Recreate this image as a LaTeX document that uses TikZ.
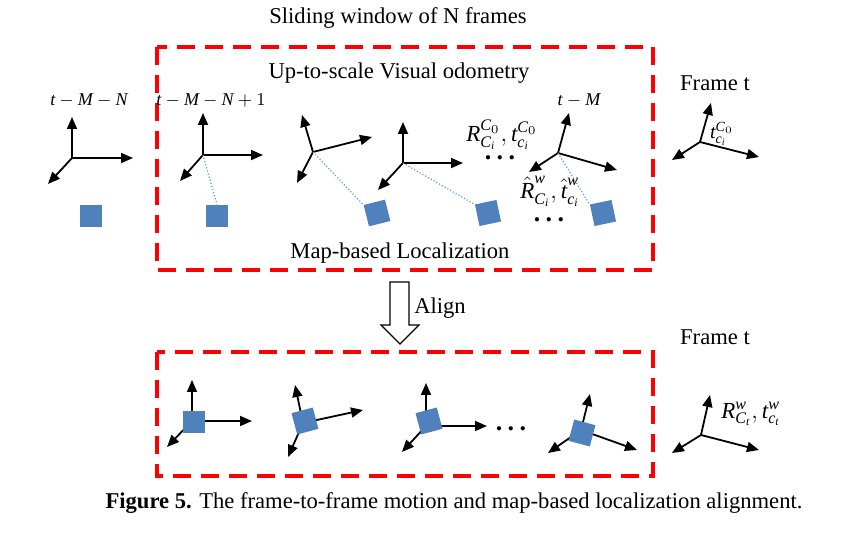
\documentclass[tikz,border=0pt]{standalone}
\usepackage{amsmath}
\usepackage{fontspec}
\setmainfont{Liberation Serif}
\usetikzlibrary{arrows.meta}
\definecolor{markblue}{RGB}{79,129,189}
\definecolor{linkblue}{RGB}{91,155,213}
\begin{document}
\begin{tikzpicture}[x=0.5pt,y=-0.5pt,
    axis/.style={line width=0.9pt,-{Triangle[length=6pt,width=5pt]}},
    mapmark/.style={fill=markblue,minimum size=11pt,inner sep=0pt},
    link/.style={linkblue,densely dotted,line width=0.6pt},
    window/.style={red,line width=1.6pt,dash pattern=on 9pt off 5pt},
    txt/.style={font=\fontsize{11.3}{13}\selectfont},
    stamp/.style={font=\fontsize{9}{11}\selectfont},
    pose/.style={font=\fontsize{11.5}{13}\selectfont},
    ellip/.style={font=\fontsize{13}{14}\selectfont\bfseries,inner sep=0pt}]
    \useasboundingbox (0,0) rectangle (843,535);
    % sliding window and aligned window
    \draw[window] (157,47) rectangle (653,270);
    \draw[window] (157,352) rectangle (653,476);
    \node[txt] (title) at (398,18) {Sliding window of N frames};
    \node[txt] (vo) at (399,73) {Up-to-scale Visual odometry};
    \node[txt] (loc) at (400,253) {Map-based Localization};
    \node[txt] (frametop) at (715,83) {Frame t};
    \node[txt] (framebot) at (715,337) {Frame t};
    % camera axes: name / origin / up / right / down-left
    \foreach \n/\ox/\oy/\ux/\uy/\rx/\ry/\dx/\dy in {
        a/72/158/72/117/133/158/48/184,
        b/203/155/203/113/263/155/180/181,
        c/313/152/302/115/372/137/297/183,
        d/403/163/403/122/463/163/378/190,
        e/558/153/569/113/617/170/529/172,
        f/700/142/711/103/759/157/672/160,
        g/192/421/192/380/252/421/167/447,
        h/303/423/295/385/363/410/288/457,
        i/426/426/426/383/487/426/402/452,
        j/581/430/590/394/637/450/548/453,
        k/701/435/710/395/759/450/672/453}{
        \coordinate (o\n) at (\ox,\oy);
        \coordinate (u\n) at (\ux,\uy);
        \coordinate (r\n) at (\rx,\ry);
        \coordinate (d\n) at (\dx,\dy);
        \draw[axis] (o\n) -- (u\n);
        \draw[axis] (o\n) -- (r\n);
        \draw[axis] (o\n) -- (d\n);
    }
    % map positions
    \node[mapmark] (ma) at (91,216) {};
    \node[mapmark] (mb) at (217,216) {};
    \node[mapmark,rotate=14] (mc) at (377,213) {};
    \node[mapmark,rotate=12] (md) at (488,213) {};
    \node[mapmark,rotate=12] (me) at (603,213) {};
    \node[mapmark] (mg) at (194,422) {};
    \node[mapmark,rotate=15] (mh) at (305,421) {};
    \node[mapmark,rotate=15] (mi) at (429,421) {};
    \node[mapmark,rotate=-15] (mj) at (582,433) {};
    \draw[link] (ob) -- (mb.north);
    \draw[link] (oc) -- (mc.north west);
    \draw[link] (od) -- (md.north west);
    \draw[link] (oe) -- (me.north west);
    % labels
    \node[stamp] (la) at (89,100) {$\textit{t}-\textit{M}-\textit{N}$};
    \node[stamp] (lb) at (211,100) {$\textit{t}-\textit{M}-\textit{N}+1$};
    \node[stamp] (le) at (579,100) {$\textit{t}-\textit{M}$};
    \node[pose] (rel) at (502,135) {$\textit{R}^{\textit{C}_0}_{\textit{C}_{\textit{i}}},\textit{t}^{\textit{C}_0}_{\textit{c}_{\textit{i}}}$};
    \node[ellip] (dotsa) at (500,158) {.\hspace{2.7pt}.\hspace{2.7pt}.};
    \node[pose] (abs) at (550,191) {$\hat{\textit{R}}^{\textit{w}}_{\textit{C}_{\textit{i}}},\hat{\textit{t}}^{\textit{w}}_{\textit{c}_{\textit{i}}}$};
    \node[ellip] (dotsb) at (549,220) {.\hspace{2.7pt}.\hspace{2.7pt}.};
    \node[font=\fontsize{10}{12}\selectfont] (lf) at (722,134) {$\textit{t}^{\textit{C}_0}_{\textit{c}_{\textit{i}}}$};
    \node[ellip] (dotsc) at (511,429) {.\hspace{2.7pt}.\hspace{2.7pt}.};
    \node[pose] (lk) at (751,414) {$\textit{R}^{\textit{w}}_{\textit{C}_{\textit{t}}},\textit{t}^{\textit{w}}_{\textit{c}_{\textit{t}}}$};
    % align arrow
    \draw[line width=0.6pt] (390,282) -- (409,282) -- (409,325) -- (419,325)
        -- (400,344) -- (381,325) -- (390,325) -- cycle;
    \node[txt] (align) at (440,308) {Align};
    \node[font=\fontsize{11.3}{13}\selectfont] (cap) at (454,503)
        {\textbf{Figure 5.} The frame-to-frame motion and map-based localization alignment.};
\end{tikzpicture}
\end{document}
